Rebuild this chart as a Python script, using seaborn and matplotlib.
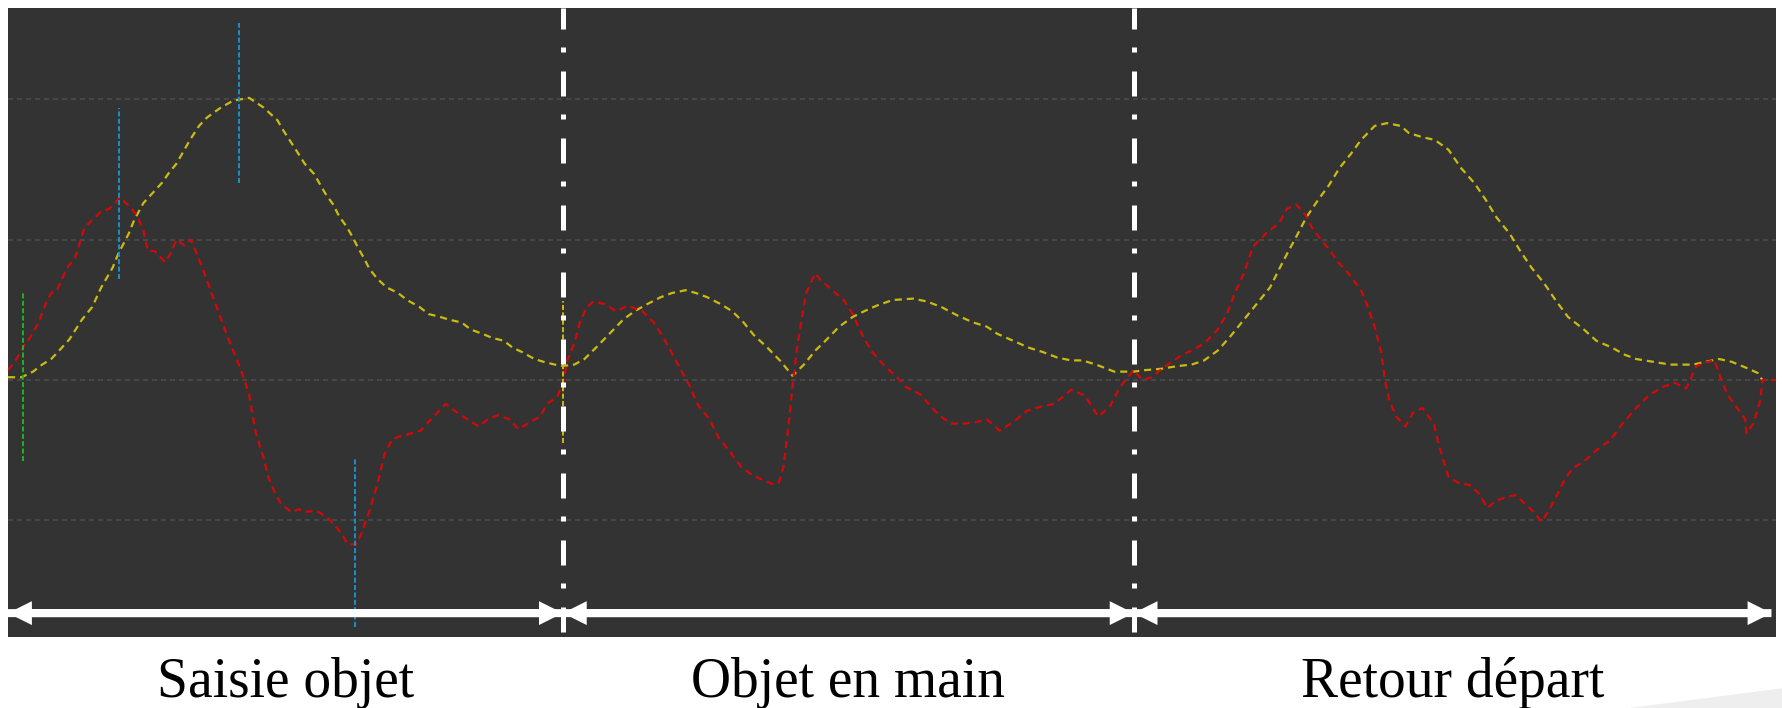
import numpy as np
import pandas as pd
import matplotlib
matplotlib.use("Agg")
import matplotlib.pyplot as plt
import matplotlib.transforms as mtransforms
from matplotlib.patches import Polygon
import seaborn as sns

# ---------------- data (frame index, signal value) ----------------
yellow_t = [7, 19, 29, 37, 45, 52, 61, 72, 81, 89, 99, 104, 113, 118, 126, 135, 143, 148, 155, 160,
            167, 175, 182, 194, 205, 219, 232, 244, 249, 261, 268, 276, 286, 293, 298, 305, 310, 315, 320, 325,
            332, 340, 350, 358, 369, 377, 387, 395, 406, 414, 424, 433, 443, 451, 459, 470, 478, 488, 495,
            505, 514, 524, 536, 548, 558, 569, 581, 591, 603, 612, 622, 634, 644, 654, 663, 675, 687, 697, 707,
            717, 726, 738, 750, 760, 771, 785, 803, 815, 828, 842, 856, 868, 877, 891, 905, 917, 930, 942, 952,
            964, 980, 989, 997,
            1006, 1021, 1036, 1048, 1059, 1071, 1082, 1094, 1105, 1117, 1125, 1132, 1140, 1149, 1159, 1169, 1178,
            1188, 1197, 1209, 1220, 1232, 1239, 1251, 1262, 1274, 1285, 1297, 1307, 1316, 1328, 1337, 1347, 1358,
            1368, 1379, 1393, 1404, 1418, 1429, 1439, 1454, 1469, 1489, 1500, 1512, 1523, 1538, 1546, 1550]
yellow_v = [2, 2, 6, 11, 15, 21, 29, 43, 52, 66, 80, 90, 104, 114, 126, 134, 141, 147, 154, 161,
            171, 181, 187, 194, 199, 201, 194, 185, 178, 163, 154, 147, 133, 125, 117, 109, 102, 94, 87, 79,
            72, 66, 62, 57, 52, 47, 45, 43, 41, 36, 33, 30, 28, 23, 20, 15, 13, 11, 10,
            11, 15, 23, 33, 43, 49, 54, 59, 62, 64, 62, 59, 54, 49, 41, 32, 23, 13, 3, 11,
            21, 28, 38, 45, 49, 53, 57, 58, 56, 52, 46, 41, 38, 33, 28, 23, 20, 16, 14, 14,
            11, 6, 6, 6,
            7, 8, 10, 11, 14, 21, 31, 43, 54, 66, 79, 90, 102, 116, 128, 139, 151,
            161, 171, 181, 183, 181, 176, 173, 171, 164, 151, 140, 128, 116, 104, 92, 80, 69,
            57, 45, 36, 28, 23, 18, 15, 13, 11, 11, 13, 15, 13, 8, 5, 0]

red_t = [7, 13, 20, 27, 34, 40, 45, 50, 54, 59, 66, 71, 74, 81, 89, 96, 101, 105, 111, 116,
         121, 126, 130, 136, 145, 150, 155, 162, 168, 173, 178, 185, 192, 199, 205, 212, 219, 225, 231, 236,
         241, 247, 256, 263, 269, 278, 286, 293, 300, 306, 313, 318, 325, 332, 338, 345, 352, 362, 370, 379,
         392, 400, 411, 421, 429, 438, 448, 456, 466, 475, 481, 490, 495,
         499, 505, 510, 516, 522, 532, 542, 552, 565, 575, 583, 591, 599, 607, 614, 624, 632, 642, 652, 662,
         671, 679, 685, 689, 693, 697, 701, 705, 709, 717, 722, 732, 742, 750, 756, 766, 777, 789, 797, 809,
         819, 826, 836, 848, 858, 868, 879, 891, 903, 915, 927, 942, 954, 966, 976, 985, 997,
         1005, 1013, 1025, 1040, 1048, 1059, 1071, 1079, 1086, 1094, 1102, 1113, 1125, 1132, 1140, 1148, 1155,
         1167, 1178, 1188, 1197, 1203, 1209, 1215, 1218, 1222, 1228, 1236, 1243, 1251, 1261, 1266, 1274, 1282,
         1293, 1301, 1308, 1316, 1326, 1333, 1341, 1349, 1356, 1362, 1370, 1376, 1383, 1393, 1404, 1416, 1427,
         1439, 1450, 1462, 1473, 1483, 1492, 1502, 1508, 1513, 1519, 1527, 1535, 1536, 1542, 1548, 1550, 1562]
red_v = [7, 13, 23, 31, 41, 54, 62, 64, 71, 80, 87, 100, 108, 114, 120, 122, 126, 130, 126, 122,
         116, 107, 92, 92, 84, 90, 100, 96, 100, 90, 80, 64, 49, 33, 21, 7, -10, -38, -53, -69,
         -79, -88, -94, -92, -94, -93, -97, -102, -109, -117, -117, -109, -93, -74, -53, -42, -40, -38, -36, -28,
         -17, -22, -28, -33, -28, -25, -28, -35, -30, -26, -17, -12, -2,
         14, 26, 41, 52, 56, 54, 49, 53, 49, 41, 31, 19, 7, -5, -18, -28, -41, -51, -62, -68,
         -71, -74, -73, -62, -36, -5, 23, 43, 62, 76, 71, 64, 57, 47, 36, 21, 11, 2, -5, -10,
         -19, -25, -31, -31, -30, -28, -36, -30, -22, -19, -17, -7, -11, -26, -19, -5, 7,
         0, 2, 10, 18, 21, 26, 36, 47, 62, 76, 95, 104, 112, 122, 125, 118, 107,
         95, 83, 74, 64, 52, 38, 19, 0, -15, -26, -33, -23, -20, -31, -48, -69, -73,
         -75, -81, -91, -86, -83, -82, -88, -94, -101, -93, -81, -71, -63, -58, -50, -43, -31,
         -20, -11, -5, -2, -6, 10, 13, 14, 2, -10, -19, -28, -38, -31, -15, 0, 0]

# event markers (frame, low, high)
marker_t = [20, 105, 210, 312, 495]
marker_lo = [-58, 72, 140, -176, -45]
marker_hi = [62, 194, 254, -55, 56]
marker_colors = ["#1fb41f", "#1b8fc9", "#1b8fc9", "#1b8fc9", "#c9b90f"]

# phases
phase_edges = [7, 495, 997, 1558]
phase_labels = ["Saisie objet", "Objet en main", "Retour départ"]

X_LIM = (7, 1562)
Y_LIM = (-183, 265)
GRID_Y = [-100, 0, 100, 200]
ARROW_Y = -166

# ---------------- style ----------------
sns.set_theme(style="dark")
plt.rcParams["font.family"] = ["Liberation Serif", "DejaVu Serif"]

fig = plt.figure(figsize=(17.83, 7.08), dpi=100, facecolor="white")
ax = fig.add_axes([0.00449, 0.1003, 0.99159, 0.8884])
ax.set_facecolor("#333333")

df_y = pd.DataFrame({"t": yellow_t, "v": yellow_v})
df_r = pd.DataFrame({"t": red_t, "v": red_v})

sns.lineplot(data=df_y, x="t", y="v", ax=ax, color="#cbbb10", lw=1.6,
             linestyle=(0, (3.2, 2.2)), estimator=None, sort=False, zorder=3)
sns.lineplot(data=df_r, x="t", y="v", ax=ax, color="#d40808", lw=1.6,
             linestyle=(0, (3.2, 2.2)), estimator=None, sort=False, zorder=3)

for t, lo, hi, c in zip(marker_t, marker_lo, marker_hi, marker_colors):
    ax.plot([t, t], [lo, hi], color=c, lw=1.4, linestyle=(0, (2.6, 1.2)), zorder=3.5)

# phase separators
for xb in phase_edges[1:3]:
    ax.plot([xb, xb], [Y_LIM[1], Y_LIM[0]], color="white", lw=3.6,
            linestyle=(0.8, (5, 3.6, 1, 3.8)), zorder=4)

# double arrows (two full-length overlapping single arrows -> no seam)
for a, b in zip(phase_edges[:-1], phase_edges[1:]):
    for start, end in ((a, b), (b, a)):
        ax.arrow(start, ARROW_Y, end - start, 0, width=5.7, head_width=17, head_length=21,
                 length_includes_head=True, facecolor="white", edgecolor="none", lw=0, zorder=5)

ax.set_xlim(*X_LIM)
ax.set_ylim(*Y_LIM)
ax.set_yticks(GRID_Y)
ax.grid(axis="y", color="#4c4c4c", lw=1.2, linestyle=(0, (3, 2.4)))
ax.grid(axis="x", visible=False)
ax.tick_params(length=0, labelleft=False, labelbottom=False)
ax.set_xlabel("")
ax.set_ylabel("")
for s in ax.spines.values():
    s.set_visible(False)

trans = mtransforms.blended_transform_factory(ax.transData, fig.transFigure)
for a, b, lab in zip(phase_edges[:-1], phase_edges[1:], phase_labels):
    ax.text((a + b) / 2, 0.0161, lab, transform=trans, ha="center", va="baseline",
            fontsize=40, color="black", clip_on=False)

fig.patches.append(Polygon([(0.914, 0), (1, 0.028), (1, 0)], closed=True,
                           transform=fig.transFigure, facecolor="#eeeeee",
                           edgecolor="none", zorder=0))

fig.savefig("out.png", dpi=100, facecolor="white")
